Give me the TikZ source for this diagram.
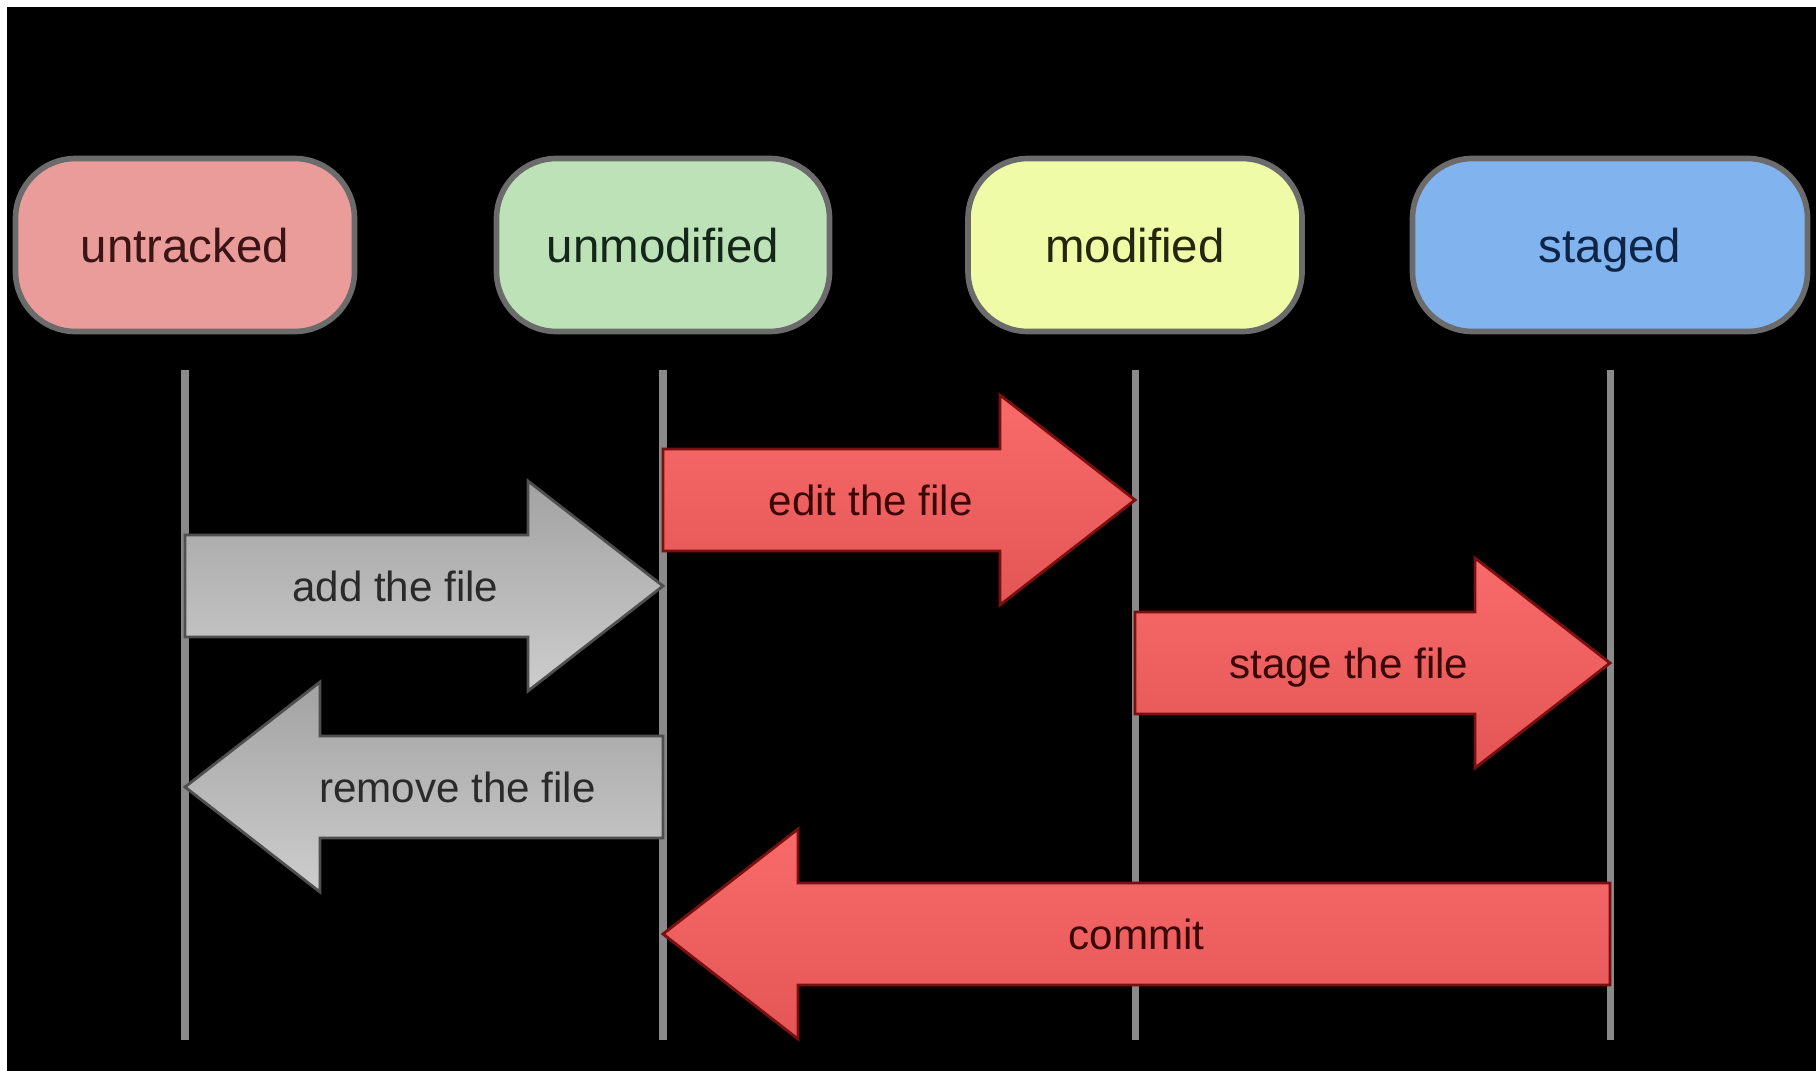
\documentclass[tikz,border=0pt]{standalone}
\usepackage{fontspec}
\setmainfont{Liberation Sans}
\usetikzlibrary{calc}
\definecolor{untrackedfill}{HTML}{E99C9A}
\definecolor{untrackedtext}{HTML}{3B1414}
\definecolor{unmodifiedfill}{HTML}{BDE2B7}
\definecolor{unmodifiedtext}{HTML}{14261A}
\definecolor{modifiedfill}{HTML}{EFFBA7}
\definecolor{modifiedtext}{HTML}{25260F}
\definecolor{stagedfill}{HTML}{81B3EE}
\definecolor{stagedtext}{HTML}{0F2547}
\definecolor{stategray}{HTML}{6B6B6B}
\definecolor{linegray}{HTML}{8A8A8A}
\definecolor{redtop}{HTML}{F96A6A}
\definecolor{redbottom}{HTML}{E45656}
\definecolor{reddark}{HTML}{7A0F0F}
\definecolor{redtext}{HTML}{3A0606}
\definecolor{graytop}{HTML}{A2A2A2}
\definecolor{graybottom}{HTML}{CDCDCD}
\definecolor{graydark}{HTML}{4F4F4F}
\definecolor{graytext}{HTML}{2A2A2A}
\begin{document}
\begin{tikzpicture}[
  every node/.style={font=\fontsize{12}{14}\selectfont, text depth=0pt},
  state/.style={draw=stategray, line width=1.6pt, rounded corners=0.6cm,
    minimum height=1.73cm, font=\fontsize{13.5}{16}\selectfont},
  lifeline/.style={draw=linegray, line width=2pt},
  red arrow/.style={draw=reddark, line width=0.8pt, top color=redtop, bottom color=redbottom},
  gray arrow/.style={draw=graydark, line width=0.8pt, top color=graytop, bottom color=graybottom},
  red label/.style={text=redtext},
  gray label/.style={text=graytext}]
% page and black backdrop
\useasboundingbox (0,0) rectangle (18.16,10.70);
\fill[white] (0,0) rectangle (18.16,10.70);
\fill[black] (0.07,-0.05) rectangle (18.21,10.63);
% the four file states
\node[state, fill=untrackedfill, text=untrackedtext, minimum width=3.39cm] (untracked) at (1.85,8.25) {untracked};
\node[state, fill=unmodifiedfill, text=unmodifiedtext, minimum width=3.33cm] (unmodified) at (6.63,8.25) {unmodified};
\node[state, fill=modifiedfill, text=modifiedtext, minimum width=3.34cm] (modified) at (11.35,8.25) {modified};
\node[state, fill=stagedfill, text=stagedtext, minimum width=3.95cm] (staged) at (16.10,8.25) {staged};
% lifelines below each state
\coordinate (floor) at (0,0.30);
\foreach \s in {untracked,unmodified,modified,staged}
  \draw[lifeline] ([yshift=-0.36cm]\s.south) -- (\s |- floor);
% rows of the transitions
\coordinate (rowedit) at (0,5.70);
\coordinate (rowadd) at (0,4.84);
\coordinate (rowstage) at (0,4.07);
\coordinate (rowremove) at (0,2.83);
\coordinate (rowcommit) at (0,1.36);
% block arrows between the lifelines
\foreach \from/\to/\row/\kind/\where/\txt in {
    unmodified/modified/rowedit/red/0.44/edit the file,
    untracked/unmodified/rowadd/gray/0.44/add the file,
    modified/staged/rowstage/red/0.45/stage the file,
    unmodified/untracked/rowremove/gray/0.43/remove the file,
    staged/unmodified/rowcommit/red/0.50/commit} {
  \coordinate (tail) at (\from |- \row);
  \coordinate (tip) at (\to |- \row);
  \coordinate (neck) at ($(tip)!1.35cm!(tail)$);
  \draw[\kind\space arrow] ($(tail)+(0,0.51)$) -- ($(neck)+(0,0.51)$) -- ($(neck)+(0,1.05)$)
    -- (tip) -- ($(neck)+(0,-1.05)$) -- ($(neck)+(0,-0.51)$) -- ($(tail)+(0,-0.51)$) -- cycle;
  \path (tail) -- (tip) node[pos=\where, \kind\space label] (\row-text) {\txt};
}
\end{tikzpicture}
\end{document}
